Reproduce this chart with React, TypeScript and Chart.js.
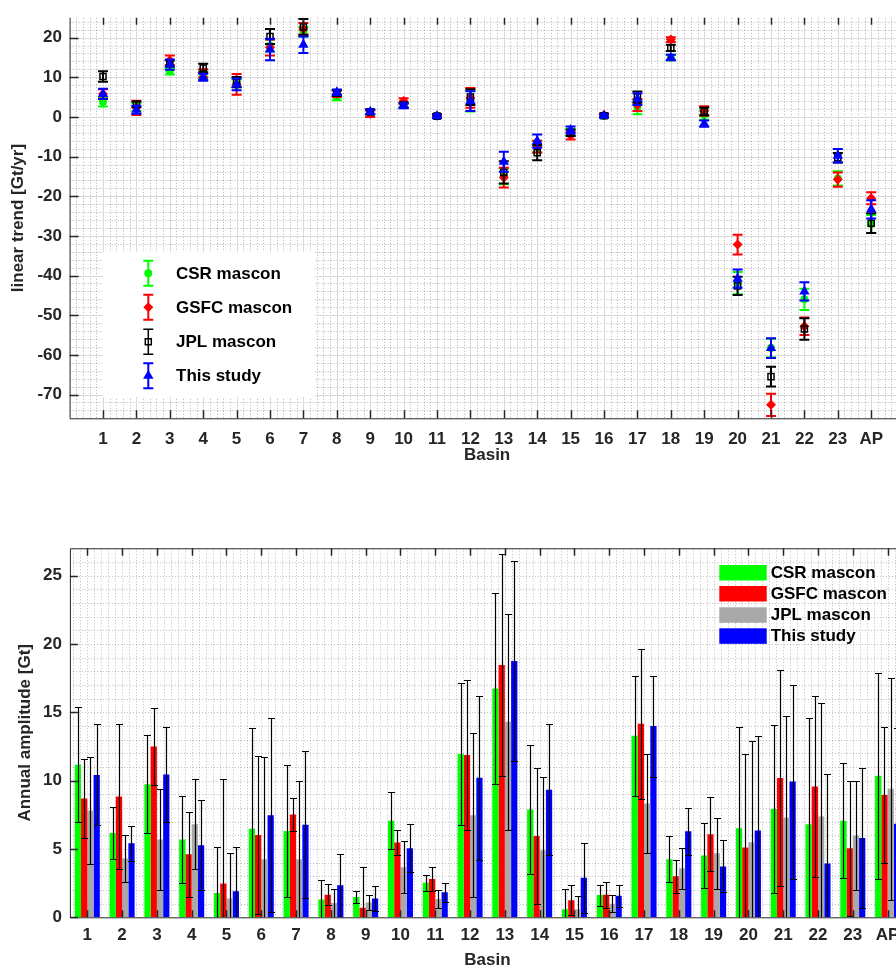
import React, { useEffect, useRef } from 'react';
import { Chart, registerables } from 'chart.js';

Chart.register(...registerables);

const FONT = "'Liberation Sans', Arial, Helvetica, sans-serif";
const AXIS_COLOR = '#262626';

const BASINS = ['1', '2', '3', '4', '5', '6', '7', '8', '9', '10', '11', '12', '13', '14', '15', '16', '17', '18', '19', '20', '21', '22', '23', 'AP'];
const TREND_TICKS = [-70, -60, -50, -40, -30, -20, -10, 0, 10, 20];
const AMP_TICKS = [0, 5, 10, 15, 20, 25];
const SERIES = ['CSR mascon', 'GSFC mascon', 'JPL mascon', 'This study'];

// Linear trend [Gt/yr] and 1-sigma errors
const CSR_TREND = [3.8, 2.5, 11.5, 10.5, 8.5, 18, 21.5, 5, 1.2, 3, 0.2, 4, -15, -7.5, -3.8, 0.3, 2.5, 15, 0.5, -41.9, -58.3, -46, -15.5, -27];
const CSR_TREND_ERR = [1.2, 1, 0.8, 1, 1, 1.5, 1.2, 0.8, 0.6, 0.6, 0.4, 2.6, 2, 1.5, 0.8, 0.4, 1.8, 0.7, 1.2, 2.8, 2.3, 2.7, 1.8, 2.3];
const GSFC_TREND = [5.8, 2.3, 14.3, 11, 8.2, 17.5, 22.2, 5.8, 0.8, 4, 0.3, 4.8, -15.3, -7.5, -4.7, 0.5, 3, 19.5, 1.5, -32.2, -72.6, -52.8, -15.8, -20.5];
const GSFC_TREND_ERR = [1.2, 1.8, 1.2, 1, 2.6, 2, 1.5, 0.8, 0.8, 0.7, 0.4, 2.5, 2.5, 1.5, 1, 0.4, 1.5, 0.6, 1.2, 2.5, 2.8, 2.2, 1.8, 1.5];
const JPL_TREND = [10.2, 3.2, 13.5, 12.3, 8.8, 20.3, 22.7, 6, 1.3, 3, 0.2, 5, -14, -9, -4, 0.3, 5, 17.4, 1.4, -42.6, -65.5, -53.5, -10.3, -26.8];
const JPL_TREND_ERR = [1.3, 0.7, 0.8, 1.1, 1.3, 1.9, 2, 0.7, 0.6, 0.6, 0.4, 2, 2.8, 1.9, 0.8, 0.4, 1.4, 0.8, 1, 2.3, 2.5, 2.7, 1.2, 2.5];
const STUDY_TREND = [5.8, 1.8, 13.2, 10, 8.2, 17, 18.2, 6.2, 1.3, 2.8, 0.2, 4, -11.3, -6.1, -3.3, 0.3, 4.5, 15, -1.7, -40.8, -58.3, -44, -9.8, -23.3];
const STUDY_TREND_ERR = [1.3, 1, 1.3, 0.9, 1.5, 2.7, 2.1, 0.7, 0.6, 0.6, 0.4, 2.5, 2.5, 1.7, 0.9, 0.4, 1.5, 0.7, 0.8, 2.3, 2.5, 2.3, 1.7, 2.3];

// Annual amplitude [Gt] and errors
const CSR_AMP = [11.17, 6.17, 9.74, 5.7, 1.77, 6.48, 6.31, 1.31, 1.48, 7.07, 2.52, 11.95, 16.74, 7.89, 0.58, 1.63, 13.29, 4.25, 4.52, 6.51, 7.92, 6.8, 7.07, 10.35];
const CSR_AMP_ERR = [4.2, 1.9, 3.6, 3.2, 3.4, 7.4, 4.8, 1.43, 0.47, 2.1, 0.6, 5.2, 7.0, 4.7, 1.5, 0.77, 4.4, 1.7, 2.4, 7.4, 6.15, 7.78, 4.23, 7.55];
const GSFC_AMP = [8.7, 8.84, 12.49, 4.61, 2.48, 6.02, 7.53, 1.65, 0.7, 5.47, 2.81, 11.88, 18.46, 5.95, 1.24, 1.65, 14.16, 3.01, 6.07, 5.1, 10.2, 9.57, 5.05, 8.94];
const GSFC_AMP_ERR = [2.9, 5.3, 2.8, 3.1, 7.65, 5.8, 1.2, 0.78, 3.0, 0.9, 0.87, 5.5, 8.1, 5.0, 1.1, 0.96, 5.5, 1.2, 2.7, 6.85, 7.9, 6.6, 4.94, 4.95];
const JPL_AMP = [7.82, 4.3, 5.7, 6.8, 1.38, 4.25, 4.25, 1.04, 1.09, 3.67, 1.33, 7.46, 14.3, 4.9, 0.58, 0.99, 8.33, 3.59, 4.69, 5.49, 7.31, 7.38, 5.98, 9.4];
const JPL_AMP_ERR = [3.9, 1.7, 3.7, 3.3, 3.3, 7.5, 5.7, 1.0, 0.56, 1.9, 0.68, 6.0, 7.9, 5.4, 0.95, 0.62, 3.6, 1.5, 2.6, 7.4, 7.4, 8.3, 4.0, 8.1];
const STUDY_AMP = [10.42, 5.41, 10.45, 5.27, 1.9, 7.46, 6.78, 2.35, 1.38, 5.05, 1.84, 10.22, 18.75, 9.33, 2.89, 1.58, 13.99, 6.29, 3.72, 6.36, 9.93, 3.94, 5.8, 6.85];
const STUDY_AMP_ERR = [3.7, 1.3, 3.5, 3.3, 3.25, 7.1, 5.4, 2.3, 0.9, 1.77, 0.69, 6.0, 7.3, 4.8, 2.57, 0.8, 3.7, 1.7, 1.9, 6.9, 7.1, 6.56, 5.1, 7.0];

const TREND_COLORS = ['#00ff00', '#ff0000', '#000000', '#0000ff'];
const AMP_COLORS = ['#00ff00', '#ff0000', '#a9a9a9', '#0000ff'];

const tickFont = { family: FONT, size: 17, weight: 'bold' as const };

function drawMarker(ctx: CanvasRenderingContext2D, kind: string, x: number, y: number, color: string) {
  ctx.save();
  ctx.fillStyle = color;
  ctx.strokeStyle = color;
  ctx.lineWidth = 1.5;
  ctx.beginPath();
  if (kind === 'circle') {
    ctx.arc(x, y, 4, 0, Math.PI * 2);
    ctx.fill();
  } else if (kind === 'rectRot') {
    ctx.moveTo(x, y - 5); ctx.lineTo(x + 5, y); ctx.lineTo(x, y + 5); ctx.lineTo(x - 5, y); ctx.closePath();
    ctx.fill();
  } else if (kind === 'rect') {
    ctx.rect(x - 3, y - 3, 6, 6);
    ctx.stroke();
  } else {
    const r = 6;
    ctx.moveTo(x, y - r);
    ctx.lineTo(x + r * 0.866, y + r * 0.5);
    ctx.lineTo(x - r * 0.866, y + r * 0.5);
    ctx.closePath();
    ctx.fill();
  }
  ctx.restore();
}

const trendDecor = {
  id: 'trendDecor',
  beforeDatasetsDraw(chart: any) {
    const { ctx, chartArea: a, scales } = chart;
    const x = scales.x, y = scales.y;
    ctx.save();
    ctx.lineWidth = 1;
    ctx.strokeStyle = 'rgba(38,38,38,0.35)';
    ctx.setLineDash([1, 2]);
    ctx.beginPath();
    for (let k = 1; k < 125; k++) {
      if (k % 5 === 0) continue;
      const px = Math.round(x.getPixelForValue(k * 0.2)) + 0.5;
      ctx.moveTo(px, a.top); ctx.lineTo(px, a.bottom);
    }
    for (let v = -74; v <= 24; v += 2) {
      if (v % 10 === 0) continue;
      const py = Math.round(y.getPixelForValue(v)) + 0.5;
      ctx.moveTo(a.left, py); ctx.lineTo(a.right, py);
    }
    ctx.stroke();
    ctx.setLineDash([]);
    ctx.strokeStyle = '#dadada';
    ctx.beginPath();
    for (let i = 1; i <= BASINS.length; i++) {
      const px = Math.round(x.getPixelForValue(i)) + 0.5;
      ctx.moveTo(px, a.top); ctx.lineTo(px, a.bottom);
    }
    TREND_TICKS.forEach((v) => {
      const py = Math.round(y.getPixelForValue(v)) + 0.5;
      ctx.moveTo(a.left, py); ctx.lineTo(a.right, py);
    });
    ctx.stroke();
    ctx.restore();
  },
  beforeDatasetDraw(chart: any, args: any) {
    const { ctx, chartArea: a, scales } = chart;
    const y = scales.y;
    const ds = chart.data.datasets[args.index];
    ctx.save();
    ctx.beginPath();
    ctx.rect(a.left, a.top, a.right - a.left, a.bottom - a.top);
    ctx.clip();
    ctx.strokeStyle = ds.errColor;
    ctx.lineWidth = 2;
    ctx.beginPath();
    args.meta.data.forEach((pt: any, i: number) => {
      const v = ds.data[i].y;
      const e = ds.errors[i];
      const px = pt.x;
      const y1 = y.getPixelForValue(v + e);
      const y2 = y.getPixelForValue(v - e);
      ctx.moveTo(px, y1); ctx.lineTo(px, y2);
      ctx.moveTo(px - 5, y1); ctx.lineTo(px + 5, y1);
      ctx.moveTo(px - 5, y2); ctx.lineTo(px + 5, y2);
    });
    ctx.stroke();
    ctx.restore();
  },
  afterDatasetsDraw(chart: any) {
    const { ctx, chartArea: a, scales } = chart;
    const x = scales.x, y = scales.y;
    ctx.save();
    ctx.strokeStyle = AXIS_COLOR;
    ctx.lineWidth = 1;
    ctx.beginPath();
    ctx.moveTo(a.left + 0.5, a.top); ctx.lineTo(a.left + 0.5, a.bottom + 0.5);
    ctx.lineTo(a.right, a.bottom + 0.5);
    ctx.stroke();
    ctx.lineWidth = 1.5;
    ctx.beginPath();
    TREND_TICKS.forEach((v) => {
      const py = Math.round(y.getPixelForValue(v)) + 0.5;
      ctx.moveTo(a.left, py); ctx.lineTo(a.left + 9, py);
    });
    for (let i = 1; i <= BASINS.length; i++) {
      const px = Math.round(x.getPixelForValue(i)) + 0.5;
      ctx.moveTo(px, a.top); ctx.lineTo(px, a.top + 7);
      ctx.moveTo(px, a.bottom); ctx.lineTo(px, a.bottom - 8);
    }
    ctx.stroke();

    // legend
    ctx.fillStyle = '#ffffff';
    ctx.fillRect(103, 252, 212, 145);
    const rows = [273.3, 307.3, 341.7, 375.7];
    const kinds = ['circle', 'rectRot', 'rect', 'triangle'];
    rows.forEach((ry, i) => {
      const mx = 148.3;
      ctx.strokeStyle = TREND_COLORS[i];
      ctx.lineWidth = i === 2 ? 1.5 : 2;
      ctx.beginPath();
      ctx.moveTo(mx, ry - 12.5); ctx.lineTo(mx, ry + 12.5);
      ctx.moveTo(mx - 5, ry - 12.5); ctx.lineTo(mx + 5, ry - 12.5);
      ctx.moveTo(mx - 5, ry + 12.5); ctx.lineTo(mx + 5, ry + 12.5);
      ctx.stroke();
      drawMarker(ctx, kinds[i], mx, ry, TREND_COLORS[i]);
      ctx.fillStyle = '#000000';
      ctx.font = `bold 17px ${FONT}`;
      ctx.textBaseline = 'middle';
      ctx.textAlign = 'left';
      ctx.fillText(SERIES[i], 176, ry + 1);
    });
    ctx.restore();
  },
};

const ampDecor = {
  id: 'ampDecor',
  beforeDatasetsDraw(chart: any) {
    const { ctx, chartArea: a, scales } = chart;
    const x = scales.x, y = scales.y;
    const p0 = x.getPixelForValue(0);
    const sp = x.getPixelForValue(1) - p0;
    ctx.save();
    ctx.lineWidth = 1;
    ctx.strokeStyle = 'rgba(38,38,38,0.3)';
    ctx.setLineDash([1, 2]);
    ctx.beginPath();
    for (let k = 3; k <= 122; k++) {
      const t = k * 0.2;
      const px = Math.round(p0 + (t - 1) * sp) + 0.5;
      if (px <= a.left + 1 || px >= a.right) continue;
      ctx.moveTo(px, a.top); ctx.lineTo(px, a.bottom);
    }
    for (let v = 1; v <= 26; v++) {
      const py = Math.round(y.getPixelForValue(v)) + 0.5;
      ctx.moveTo(a.left, py); ctx.lineTo(a.right, py);
    }
    ctx.stroke();
    ctx.restore();
  },
  afterDatasetsDraw(chart: any) {
    const { ctx, chartArea: a, scales } = chart;
    const x = scales.x, y = scales.y;
    ctx.save();
    ctx.beginPath();
    ctx.rect(a.left, a.top, a.right - a.left, a.bottom - a.top);
    ctx.clip();
    ctx.strokeStyle = '#000000';
    ctx.lineWidth = 1.2;
    ctx.beginPath();
    chart.data.datasets.forEach((ds: any, di: number) => {
      const meta = chart.getDatasetMeta(di);
      meta.data.forEach((bar: any, i: number) => {
        const v = ds.data[i];
        const e = ds.errors[i];
        const px = Math.round(bar.x) + 0.5;
        const y1 = Math.round(y.getPixelForValue(v + e)) + 0.5;
        const y2 = Math.round(y.getPixelForValue(v - e)) + 0.5;
        ctx.moveTo(px, y1); ctx.lineTo(px, y2);
        ctx.moveTo(px - 3.5, y1); ctx.lineTo(px + 3.5, y1);
        ctx.moveTo(px - 3.5, y2); ctx.lineTo(px + 3.5, y2);
      });
    });
    ctx.stroke();
    ctx.restore();

    ctx.save();
    ctx.strokeStyle = AXIS_COLOR;
    ctx.lineWidth = 1;
    ctx.beginPath();
    ctx.moveTo(a.right, a.top + 0.5); ctx.lineTo(a.left + 0.5, a.top + 0.5);
    ctx.lineTo(a.left + 0.5, a.bottom + 0.5); ctx.lineTo(a.right, a.bottom + 0.5);
    ctx.stroke();
    ctx.lineWidth = 1.5;
    ctx.beginPath();
    AMP_TICKS.forEach((v) => {
      const py = Math.round(y.getPixelForValue(v)) + 0.5;
      ctx.moveTo(a.left, py); ctx.lineTo(a.left + 8, py);
    });
    BASINS.forEach((_, i) => {
      const px = Math.round(x.getPixelForValue(i)) + 0.5;
      ctx.moveTo(px, a.top); ctx.lineTo(px, a.top + 7.5);
      ctx.moveTo(px, a.bottom); ctx.lineTo(px, a.bottom - 7);
    });
    ctx.stroke();

    // legend
    const tops = [65, 86, 107.3, 128.3];
    tops.forEach((ty, i) => {
      ctx.fillStyle = AMP_COLORS[i];
      ctx.fillRect(719.3, ty, 47.4, 15.5);
      ctx.fillStyle = '#000000';
      ctx.font = `bold 17px ${FONT}`;
      ctx.textBaseline = 'middle';
      ctx.textAlign = 'left';
      ctx.fillText(SERIES[i], 770.7, ty + 8.5);
    });
    ctx.restore();
  },
};

export default function App() {
  const topRef = useRef<HTMLCanvasElement>(null);
  const botRef = useRef<HTMLCanvasElement>(null);

  useEffect(() => {
    const trendSeries = [
      { v: CSR_TREND, e: CSR_TREND_ERR, style: 'circle', r: 4, bw: 0, bg: TREND_COLORS[0], order: 4 },
      { v: GSFC_TREND, e: GSFC_TREND_ERR, style: 'rectRot', r: 5, bw: 0, bg: TREND_COLORS[1], order: 3 },
      { v: JPL_TREND, e: JPL_TREND_ERR, style: 'rect', r: 4.3, bw: 1.5, bg: 'rgba(0,0,0,0)', order: 2 },
      { v: STUDY_TREND, e: STUDY_TREND_ERR, style: 'triangle', r: 6, bw: 0, bg: TREND_COLORS[3], order: 1 },
    ];
    const c1 = new Chart(topRef.current as HTMLCanvasElement, {
      type: 'scatter',
      data: {
        datasets: trendSeries.map((s, si) => ({
          label: SERIES[si],
          data: s.v.map((val, i) => ({ x: i + 1, y: val })),
          errors: s.e,
          errColor: TREND_COLORS[si],
          pointStyle: s.style,
          pointRadius: s.r,
          pointBorderWidth: s.bw,
          pointBackgroundColor: s.bg,
          pointBorderColor: TREND_COLORS[si],
          backgroundColor: s.bg,
          borderColor: TREND_COLORS[si],
          showLine: false,
          order: s.order,
        })) as any,
      },
      options: {
        responsive: false,
        animation: false,
        events: [],
        layout: { padding: { top: 13, right: 15.4, left: 0, bottom: 0 } },
        plugins: { legend: { display: false }, tooltip: { enabled: false } },
        scales: {
          x: {
            type: 'linear',
            position: 'bottom',
            min: 0,
            max: 25,
            grid: { display: false, drawTicks: false },
            border: { display: false },
            ticks: {
              font: tickFont,
              color: AXIS_COLOR,
              padding: 10.5,
              autoSkip: false,
              maxRotation: 0,
              callback: (_v: any, i: number) => BASINS[i],
            },
            afterBuildTicks: (s: any) => { s.ticks = BASINS.map((_, i) => ({ value: i + 1 })); },
            afterFit: (s: any) => { s.height = 61.7; },
            title: { display: true, text: 'Basin', font: tickFont, color: AXIS_COLOR, padding: { top: 0, bottom: 14.8 } },
          },
          y: {
            type: 'linear',
            min: -76,
            max: 25,
            grid: { display: false, drawTicks: false },
            border: { display: false },
            ticks: { font: tickFont, color: AXIS_COLOR, padding: 7.6, autoSkip: false },
            afterBuildTicks: (s: any) => { s.ticks = TREND_TICKS.map((v) => ({ value: v })); },
            afterFit: (s: any) => { s.width = 69.6; },
            title: { display: true, text: 'linear trend [Gt/yr]', font: tickFont, color: AXIS_COLOR, padding: { top: 8, bottom: 0 } },
          },
        },
      } as any,
      plugins: [trendDecor],
    });

    const ampSeries = [
      { v: CSR_AMP, e: CSR_AMP_ERR },
      { v: GSFC_AMP, e: GSFC_AMP_ERR },
      { v: JPL_AMP, e: JPL_AMP_ERR },
      { v: STUDY_AMP, e: STUDY_AMP_ERR },
    ];
    const c2 = new Chart(botRef.current as HTMLCanvasElement, {
      type: 'bar',
      data: {
        labels: BASINS,
        datasets: ampSeries.map((s, si) => ({
          label: SERIES[si],
          data: s.v,
          errors: s.e,
          backgroundColor: AMP_COLORS[si],
          borderWidth: 0,
          categoryPercentage: 0.72,
          barPercentage: 1.0,
        })) as any,
      },
      options: {
        responsive: false,
        animation: false,
        events: [],
        layout: { padding: { top: 48.3, right: 15, left: 0, bottom: 0 } },
        plugins: { legend: { display: false }, tooltip: { enabled: false } },
        scales: {
          x: {
            type: 'category',
            offset: true,
            grid: { display: false, drawTicks: false },
            border: { display: false },
            ticks: { font: tickFont, color: AXIS_COLOR, padding: 7.5, autoSkip: false, maxRotation: 0 },
            afterFit: (s: any) => { s.height = 62.7; },
            title: { display: true, text: 'Basin', font: tickFont, color: AXIS_COLOR, padding: { top: 0, bottom: 9.8 } },
          },
          y: {
            type: 'linear',
            min: 0,
            max: 27,
            grid: { display: false, drawTicks: false },
            border: { display: false },
            ticks: { font: tickFont, color: AXIS_COLOR, padding: 7.9, autoSkip: false },
            afterBuildTicks: (s: any) => { s.ticks = AMP_TICKS.map((v) => ({ value: v })); },
            afterFit: (s: any) => { s.width = 69.9; },
            title: { display: true, text: 'Annual amplitude [Gt]', font: tickFont, color: AXIS_COLOR, padding: { top: 15, bottom: 0 } },
          },
        },
      } as any,
      plugins: [ampDecor],
    });

    return () => {
      c1.destroy();
      c2.destroy();
    };
  }, []);

  return (
    <div style={{ position: 'fixed', left: 0, top: 0, width: 896, height: 967, overflow: 'hidden', background: '#ffffff' }}>
      <canvas ref={topRef} width={920} height={480} style={{ position: 'absolute', left: 0, top: 0, width: 920, height: 480 }} />
      <canvas ref={botRef} width={920} height={480} style={{ position: 'absolute', left: 0, top: 500, width: 920, height: 480 }} />
    </div>
  );
}
